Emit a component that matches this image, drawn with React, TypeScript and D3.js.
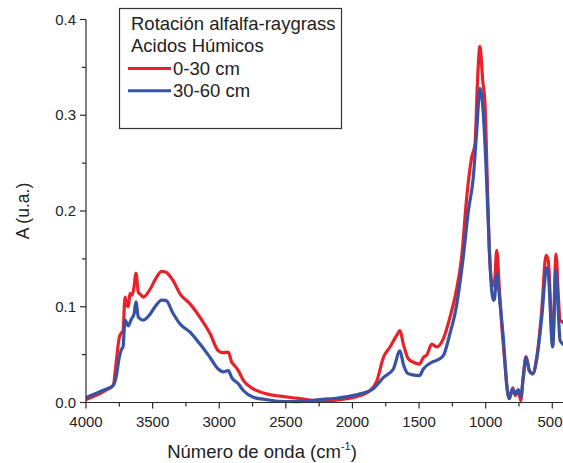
import React from "react";
import * as d3 from "d3";

// FTIR spectra of humic acids, alfalfa-raygrass rotation
const series0to30: [number, number][] = [
  [4000, 0.003], [3950, 0.006], [3900, 0.009], [3850, 0.013], [3795, 0.018],
  [3775, 0.04], [3750, 0.068], [3732, 0.073], [3722, 0.075], [3707, 0.11],
  [3692, 0.102], [3682, 0.1], [3670, 0.114], [3655, 0.112], [3640, 0.12],
  [3625, 0.135], [3607, 0.115], [3591, 0.113], [3570, 0.11], [3520, 0.118],
  [3482, 0.128], [3432, 0.137], [3400, 0.136], [3345, 0.127], [3294, 0.1135],
  [3219, 0.103], [3144, 0.089], [3069, 0.072], [3007, 0.054], [2972, 0.052],
  [2932, 0.0526], [2906, 0.042], [2882, 0.038], [2857, 0.0334], [2819, 0.023],
  [2744, 0.0143], [2644, 0.009], [2544, 0.0066], [2418, 0.0045], [2244, 0.0014],
  [2093, 0.003], [1943, 0.0073], [1868, 0.0125], [1818, 0.022], [1768, 0.047],
  [1718, 0.058], [1668, 0.07], [1643, 0.075], [1618, 0.061], [1581, 0.0457],
  [1543, 0.042], [1498, 0.04], [1468, 0.047], [1440, 0.05], [1405, 0.061],
  [1368, 0.058], [1318, 0.0665], [1268, 0.089], [1223, 0.115], [1180, 0.152],
  [1142, 0.2145], [1105, 0.256], [1080, 0.27], [1063, 0.33], [1043, 0.372],
  [1022, 0.336], [1005, 0.312], [988, 0.232], [968, 0.145], [947, 0.122],
  [934, 0.125], [917, 0.159], [898, 0.12], [880, 0.082], [855, 0.04],
  [838, 0.0125], [823, 0.004], [797, 0.0154], [778, 0.0073], [755, 0.0133],
  [737, 0.002], [718, 0.0264], [697, 0.048], [672, 0.0334], [647, 0.03],
  [617, 0.047], [579, 0.096], [547, 0.1536], [530, 0.148], [497, 0.061],
  [472, 0.155], [454, 0.11], [442, 0.086], [420, 0.084], [400, 0.08],
];

const series30to60: [number, number][] = [
  [4000, 0.005], [3950, 0.008], [3900, 0.011], [3850, 0.014], [3795, 0.018],
  [3775, 0.026], [3750, 0.047], [3732, 0.056], [3722, 0.058], [3707, 0.086],
  [3682, 0.08], [3660, 0.087], [3640, 0.092], [3625, 0.105], [3607, 0.089],
  [3570, 0.086], [3520, 0.092], [3482, 0.1], [3432, 0.107], [3400, 0.1066],
  [3345, 0.0927], [3294, 0.082], [3219, 0.0735], [3144, 0.061], [3069, 0.047],
  [3007, 0.035], [2970, 0.032], [2932, 0.0334], [2906, 0.026], [2857, 0.0195],
  [2819, 0.0125], [2744, 0.0055], [2644, 0.003], [2544, 0.0013], [2418, 0.001],
  [2244, 0.003], [2093, 0.005], [1943, 0.009], [1844, 0.0143], [1768, 0.026],
  [1693, 0.035], [1643, 0.054], [1618, 0.04], [1581, 0.03], [1498, 0.028],
  [1468, 0.035], [1405, 0.042], [1368, 0.044], [1318, 0.049], [1268, 0.072],
  [1223, 0.098], [1168, 0.152], [1130, 0.2], [1093, 0.235], [1067, 0.284],
  [1043, 0.328], [1018, 0.302], [998, 0.249], [973, 0.162], [955, 0.117],
  [943, 0.1066], [934, 0.108], [917, 0.134], [892, 0.103], [868, 0.068],
  [842, 0.0195], [823, 0.004], [797, 0.0143], [778, 0.009], [755, 0.0133],
  [737, 0.0055], [718, 0.026], [697, 0.047], [672, 0.033], [647, 0.03],
  [617, 0.045], [579, 0.089], [542, 0.141], [530, 0.135], [497, 0.058],
  [472, 0.138], [454, 0.0926], [442, 0.065], [420, 0.061], [400, 0.058],
];

const xMajorTicks = [4000, 3500, 3000, 2500, 2000, 1500, 1000, 500];
const xMinorTicks = [3750, 3250, 2750, 2250, 1750, 1250, 750];
const yMajorTicks = [0, 0.1, 0.2, 0.3, 0.4];
const yMinorTicks = [0.05, 0.15, 0.25, 0.35];

const legendTitle = ["Rotación alfalfa-raygrass", "Acidos Húmicos"];
const seriesNames = ["0-30 cm", "30-60 cm"];
const seriesColors = ["#e8222b", "#3953a4"];

const W = 563;
const H = 463;
const FONT = "'Liberation Sans', Arial, Helvetica, sans-serif";
const AXIS = "#2b2b2b";

export default function App() {
  const x = d3.scaleLinear().domain([4000, 400]).range([86, 565.6]);
  const y = d3.scaleLinear().domain([0, 0.4]).range([402.5, 19.5]);

  const line = d3
    .line<[number, number]>()
    .x((d) => x(d[0]))
    .y((d) => y(d[1]))
    .curve(d3.curveMonotoneX);

  const series = [series0to30, series30to60];

  return (
    <svg
      width={W}
      height={H}
      style={{ position: "absolute", left: 0, top: 0, background: "#fff" }}
      fontFamily={FONT}
    >
      <rect width={W} height={H} fill="#fff" />
      <defs>
        <clipPath id="plotClip">
          <rect x={86} y={0} width={W - 86} height={404} />
        </clipPath>
      </defs>

      {/* spectra */}
      <g clipPath="url(#plotClip)" fill="none" strokeWidth={3.2} strokeLinejoin="round" strokeLinecap="round">
        {series.map((s, i) => (
          <path key={i} d={line(s) ?? ""} stroke={seriesColors[i]} />
        ))}
      </g>

      {/* x axis */}
      <g stroke={AXIS} strokeWidth={1.2}>
        <line x1={86} x2={W} y1={y(0)} y2={y(0)} />
        {xMajorTicks.map((t) => (
          <line key={t} x1={x(t)} x2={x(t)} y1={y(0)} y2={y(0) + 6} />
        ))}
        {xMinorTicks.map((t) => (
          <line key={t} x1={x(t)} x2={x(t)} y1={y(0)} y2={y(0) + 4} />
        ))}
      </g>
      <g fontSize={15} fill="#222" textAnchor="middle">
        {xMajorTicks.map((t) => (
          <text key={t} x={Math.min(x(t), W - 13)} y={426.5}>
            {t}
          </text>
        ))}
      </g>

      {/* y axis */}
      <g stroke={AXIS} strokeWidth={1.2}>
        <line x1={86} x2={86} y1={y(0)} y2={y(0.4)} />
        {yMajorTicks.map((t) => (
          <line key={t} x1={86} x2={80} y1={y(t)} y2={y(t)} />
        ))}
        {yMinorTicks.map((t) => (
          <line key={t} x1={86} x2={82} y1={y(t)} y2={y(t)} />
        ))}
      </g>
      <g fontSize={15} fill="#222" textAnchor="end">
        {yMajorTicks.map((t) => (
          <text key={t} x={76} y={y(t) + 5}>
            {d3.format(".1f")(t)}
          </text>
        ))}
      </g>

      {/* axis titles */}
      <text x={262} y={458} fontSize={18.5} fill="#222" textAnchor="middle">
        Número de onda (cm
        <tspan fontSize={11} dy={-8}>-1</tspan>
        <tspan dy={8}>)</tspan>
      </text>
      <text
        transform={`translate(29, ${(y(0) + y(0.4)) / 2}) rotate(-90)`}
        fontSize={17.5}
        fill="#222"
        textAnchor="middle"
      >
        A (u.a.)
      </text>

      {/* legend */}
      <rect x={119.5} y={8.5} width={222} height={120} fill="#fff" stroke="#333" strokeWidth={1.2} />
      <g fontSize={18.5} fill="#222">
        <text x={131} y={30}>{legendTitle[0]}</text>
        <text x={131} y={51.5}>{legendTitle[1]}</text>
        {seriesNames.map((n, i) => (
          <g key={n}>
            <line
              x1={128}
              x2={171}
              y1={68.5 + i * 22.3}
              y2={68.5 + i * 22.3}
              stroke={seriesColors[i]}
              strokeWidth={3}
            />
            <text x={173} y={75 + i * 22.3}>{n}</text>
          </g>
        ))}
      </g>
    </svg>
  );
}
